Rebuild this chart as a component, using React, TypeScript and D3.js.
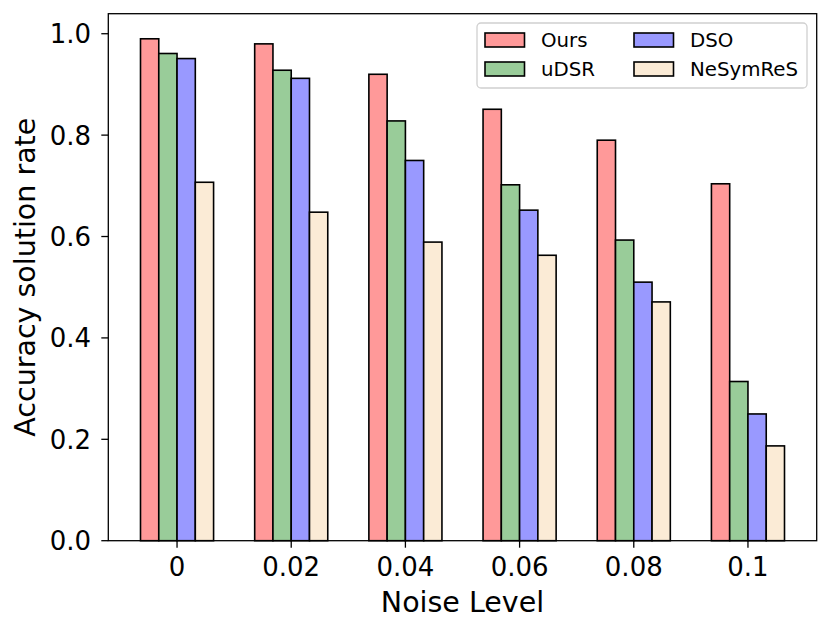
import React from 'react';
import * as d3 from 'd3';

const noiseLevels = ['0', '0.02', '0.04', '0.06', '0.08', '0.1'];
const methods = ['Ours', 'uDSR', 'DSO', 'NeSymReS'];
const colors = ['#ff9999', '#99cc99', '#9999ff', '#fbebd6'];

const ours = [0.99, 0.98, 0.92, 0.851, 0.79, 0.704];
const udsr = [0.961, 0.928, 0.828, 0.702, 0.593, 0.314];
const dso = [0.951, 0.912, 0.75, 0.652, 0.51, 0.25];
const nesymres = [0.707, 0.648, 0.589, 0.563, 0.471, 0.187];

const yTicks = [0, 0.2, 0.4, 0.6, 0.8, 1.0];

const W = 831;
const H = 633;
const margin = { left: 108.3, right: 816.7, top: 13.7, bottom: 540.7 };
const barW = 0.16;
const font = 'DejaVu Sans, sans-serif';

export default function App() {
  const series = [ours, udsr, dso, nesymres];
  const nBars = methods.length;
  const span = noiseLevels.length - 1 + nBars * barW;
  const pad = span * 0.05;
  const x = d3
    .scaleLinear()
    .domain([-nBars * barW / 2 - pad, noiseLevels.length - 1 + nBars * barW / 2 + pad])
    .range([margin.left, margin.right]);
  const ymax = d3.max(series.flat())! * 1.05;
  const y = d3.scaleLinear().domain([0, ymax]).range([margin.bottom, margin.top]);

  return (
    <svg width={W} height={H} style={{ position: 'absolute', left: 0, top: 0, background: '#fff' }}>
      {/* bars */}
      {series.map((vals, si) =>
        vals.map((v, i) => {
          const x0 = x(i - (nBars * barW) / 2 + si * barW);
          const x1 = x(i - (nBars * barW) / 2 + (si + 1) * barW);
          return (
            <rect
              key={`${si}-${i}`}
              x={x0}
              y={y(v)}
              width={x1 - x0}
              height={y(0) - y(v)}
              fill={colors[si]}
              stroke="#000"
              strokeWidth={1.6}
            />
          );
        })
      )}

      {/* axes frame */}
      <rect
        x={margin.left}
        y={margin.top}
        width={margin.right - margin.left}
        height={margin.bottom - margin.top}
        fill="none"
        stroke="#000"
        strokeWidth={1.3}
      />

      {/* y ticks */}
      {yTicks.map((t) => (
        <g key={t}>
          <line x1={margin.left - 7} x2={margin.left} y1={y(t)} y2={y(t)} stroke="#000" strokeWidth={1.3} />
          <text x={91} y={y(t) + 9.5} textAnchor="end" fontFamily={font} fontSize={26}>
            {t.toFixed(1)}
          </text>
        </g>
      ))}

      {/* x ticks */}
      {noiseLevels.map((lab, i) => (
        <g key={lab}>
          <line x1={x(i)} x2={x(i)} y1={margin.bottom} y2={margin.bottom + 7} stroke="#000" strokeWidth={1.3} />
          <text x={x(i)} y={576} textAnchor="middle" fontFamily={font} fontSize={26}>
            {lab}
          </text>
        </g>
      ))}

      {/* axis labels */}
      <text
        x={(margin.left + margin.right) / 2}
        y={612}
        textAnchor="middle"
        fontFamily={font}
        fontSize={28.5}
      >
        Noise Level
      </text>
      <text
        transform={`translate(35, ${(margin.top + margin.bottom) / 2}) rotate(-90)`}
        textAnchor="middle"
        fontFamily={font}
        fontSize={28.5}
      >
        Accuracy solution rate
      </text>

      {/* legend: two columns, filled column by column */}
      <rect x={477} y={23} width={330} height={65} rx={4} fill="#fff" fillOpacity={0.8} stroke="#d0d0d0" strokeWidth={1.3} />
      {methods.map((m, i) => {
        const c = Math.floor(i / 2);
        const r = i % 2;
        const px = c === 0 ? 485 : 634;
        const cy = 40 + r * 29;
        return (
          <g key={m}>
            <rect x={px} y={cy - 7} width={39.5} height={14} fill={colors[i]} stroke="#000" strokeWidth={1.6} />
            <text x={px + 56} y={cy + 7} fontFamily={font} fontSize={19.8}>
              {m}
            </text>
          </g>
        );
      })}
    </svg>
  );
}
